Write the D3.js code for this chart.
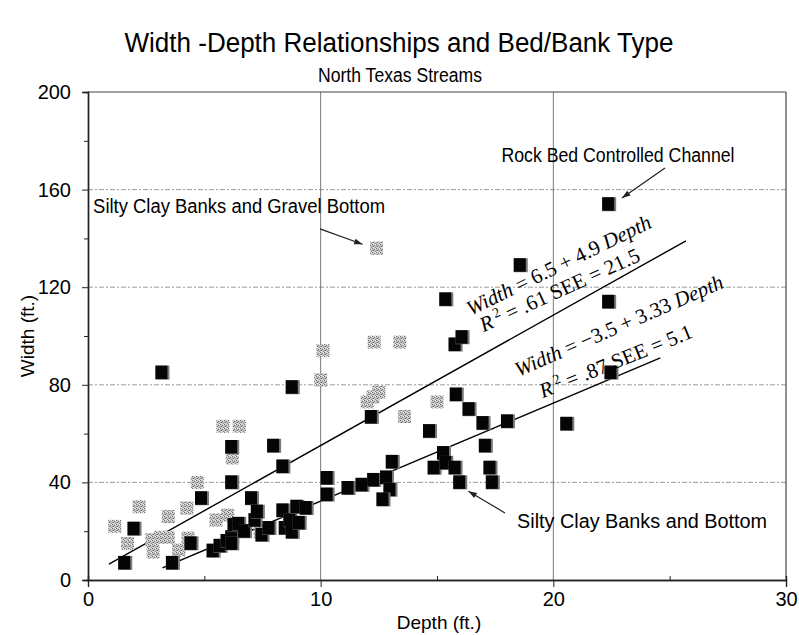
<!DOCTYPE html>
<html>
<head>
<meta charset="utf-8">
<script src="https://cdn.jsdelivr.net/npm/d3@7"></script>
<style>
  body { margin: 0; background: #fff; }
  svg { display: block; }
  text { font-family: "Liberation Sans", Arial, sans-serif; fill: #000; }
  .eq { font-family: "Liberation Serif", "Times New Roman", serif; }
</style>
</head>
<body>
<svg id="chart" width="799" height="635"></svg>
<script>
// Depth (ft.), Width (ft.)
const blackDepth = [1.6, 2.0, 3.2, 3.65, 4.45, 4.9, 5.4, 5.7, 6.0, 6.2, 6.3, 6.2, 6.2, 6.2, 6.5, 6.75, 7.05, 7.2, 7.3, 7.5, 7.8, 8.0, 8.4, 8.4, 8.5, 8.7, 8.8, 8.8, 9.0, 9.1, 9.4, 10.3, 10.3, 11.2, 11.8, 12.3, 12.85, 13.0, 12.7, 13.1, 12.2, 14.7, 15.3, 14.9, 15.4, 15.8, 16.0, 15.85, 16.4, 17.0, 17.1, 17.3, 17.4, 18.05, 20.6, 15.4, 15.8, 16.1, 18.6, 22.4, 22.4, 22.5];
const blackWidth = [7, 21, 85, 7, 15, 33.5, 12, 14, 16, 17.5, 22.5, 15, 40, 54.5, 23, 20, 33.5, 24.5, 28, 18.5, 21.3, 55, 46.5, 28.5, 21.3, 24.5, 19.7, 79, 30, 23.4, 29.5, 41.8, 35, 37.7, 39, 41, 42, 37, 33, 48.4, 66.8, 61, 52, 46, 48, 46, 40, 76, 70, 64.3, 55, 46, 40, 65, 64, 115, 96.5, 99.5, 129, 154, 114, 85];

const grayDepth = [1.15, 1.7, 2.2, 2.75, 2.8, 3.1, 3.45, 3.45, 3.9, 4.25, 4.3, 4.7, 5.5, 6.0, 6.2, 5.8, 6.5, 7.4, 10.0, 10.1, 12.0, 12.25, 12.5, 13.6, 15.0, 12.3, 13.4, 12.4];
const grayWidth = [22, 15, 30, 16.5, 11.5, 17.5, 26, 17.5, 12.3, 29.5, 17.2, 40, 24.6, 26.6, 50, 63, 63, 19.7, 82, 94, 73, 75, 77, 67, 73, 97.5, 97.5, 136];

// fitted lines as drawn (depth, width end points)
const fitNames = ['all', 'siltyClay'];
const fitStart = [[0.9, 6.5], [3.2, 5]];
const fitEnd = [[25.7, 139], [24.6, 91]];

const xTicks = [0, 10, 20, 30];
const yTicks = [0, 40, 80, 120, 160, 200];

const W = 799, H = 635;
const margin = {top: 92, right: 13, bottom: 55, left: 88};

const svg = d3.select('#chart');

const x = d3.scaleLinear().domain([0, 30]).range([margin.left, W - margin.right]);
const y = d3.scaleLinear().domain([0, 200]).range([H - margin.bottom, margin.top]);

// speckled fill for the gravel-bottom series
const defs = svg.append('defs');
const pat = defs.append('pattern').attr('id', 'speckle')
    .attr('patternUnits', 'userSpaceOnUse').attr('width', 4).attr('height', 4);
pat.append('rect').attr('width', 4).attr('height', 4).attr('fill', '#c8c8c8');
[[0, 0, '#6e6e6e'], [2, 1, '#7a7a7a'], [1, 2, '#5e5e5e'], [3, 3, '#8a8a8a'], [3, 0, '#ececec'], [1, 3, '#f0f0f0'], [0, 2, '#a8a8a8']]
    .forEach(([px, py, c]) => pat.append('rect').attr('x', px).attr('y', py).attr('width', 1).attr('height', 1).attr('fill', c));

defs.append('marker').attr('id', 'arrow')
    .attr('viewBox', '0 0 10 10').attr('refX', 10).attr('refY', 5)
    .attr('markerWidth', 9).attr('markerHeight', 7).attr('orient', 'auto')
  .append('path').attr('d', 'M0,1.5 L10,5 L0,8.5 Z').attr('fill', '#222');

// titles
svg.append('text').attr('x', 399).attr('y', 52).attr('text-anchor', 'middle')
    .attr('textLength', 549).attr('lengthAdjust', 'spacingAndGlyphs')
    .style('font-size', '27px').text('Width -Depth Relationships and Bed/Bank Type');
svg.append('text').attr('x', 400).attr('y', 82).attr('text-anchor', 'middle')
    .attr('textLength', 164).attr('lengthAdjust', 'spacingAndGlyphs')
    .style('font-size', '20px').text('North Texas Streams');

// grid
const grid = svg.append('g');
grid.selectAll('line.h').data(yTicks.filter(d => d > 0 && d < 200)).join('line')
    .attr('x1', x(0)).attr('x2', x(30)).attr('y1', d => y(d)).attr('y2', d => y(d))
    .attr('stroke', '#9a9a9a').attr('stroke-width', 1).attr('stroke-dasharray', '5,2,2,2');
grid.selectAll('line.v').data(xTicks.filter(d => d > 0 && d < 30)).join('line')
    .attr('x1', d => x(d)).attr('x2', d => x(d)).attr('y1', y(0)).attr('y2', y(200))
    .attr('stroke', '#777').attr('stroke-width', 1);

// frame top / right
svg.append('line').attr('x1', x(0)).attr('x2', x(30)).attr('y1', y(200)).attr('y2', y(200))
    .attr('stroke', '#444').attr('stroke-width', 1.2);
svg.append('line').attr('x1', x(30)).attr('x2', x(30)).attr('y1', y(200)).attr('y2', y(0))
    .attr('stroke', '#444').attr('stroke-width', 1.2);

// axes
const xAxis = svg.append('g').attr('transform', `translate(0,${y(0)})`)
    .call(d3.axisBottom(x).tickValues(xTicks).tickSize(7).tickPadding(5).tickFormat(d3.format('d')));
const xMinor = svg.append('g').attr('transform', `translate(0,${y(0)})`)
    .call(d3.axisBottom(x).tickValues([5, 15, 25]).tickSize(-4).tickFormat(''));
const yAxis = svg.append('g').attr('transform', `translate(${x(0)},0)`)
    .call(d3.axisLeft(y).tickValues(yTicks).tickSize(6).tickPadding(11).tickFormat(d3.format('d')));
const yMinor = svg.append('g').attr('transform', `translate(${x(0)},0)`)
    .call(d3.axisLeft(y).tickValues([20, 60, 100, 140, 180]).tickSize(4).tickFormat(''));
[xAxis, xMinor, yAxis, yMinor].forEach(g => {
    g.select('.domain').attr('stroke', '#222').attr('stroke-width', 1.4);
    g.selectAll('.tick line').attr('stroke', '#222');
    g.selectAll('.tick text').style('font-size', '20px').style('font-family', '"Liberation Sans", Arial, sans-serif');
});

svg.append('text').attr('x', 439).attr('y', 629).attr('text-anchor', 'middle')
    .style('font-size', '19px').text('Depth (ft.)');
svg.append('text').attr('transform', `translate(34,${(y(0) + y(200)) / 2}) rotate(-90)`)
    .attr('text-anchor', 'middle').style('font-size', '19px').text('Width (ft.)');

// fitted lines
svg.append('g').selectAll('line').data(fitNames).join('line')
    .attr('x1', (d, i) => x(fitStart[i][0])).attr('y1', (d, i) => y(fitStart[i][1]))
    .attr('x2', (d, i) => x(fitEnd[i][0])).attr('y2', (d, i) => y(fitEnd[i][1]))
    .attr('stroke', '#000').attr('stroke-width', 1.4);

// gravel-bottom points
const grayPts = grayDepth.map((d, i) => ({d, w: grayWidth[i]}));
svg.append('g').selectAll('rect').data(grayPts).join('rect')
    .attr('x', p => x(p.d) - 6.5).attr('y', p => y(p.w) - 6.5)
    .attr('width', 13).attr('height', 13).attr('fill', 'url(#speckle)');

// silty clay / rock bed points
const blackPts = blackDepth.map((d, i) => ({d, w: blackWidth[i]}));
const bg = svg.append('g').selectAll('g').data(blackPts).join('g')
    .attr('transform', p => `translate(${x(p.d)},${y(p.w)})`);
bg.append('rect').attr('x', -7).attr('y', -7).attr('width', 14).attr('height', 14).attr('fill', '#7a7a7a');
bg.append('rect').attr('x', -7).attr('y', -7).attr('width', 12).attr('height', 13.5).attr('fill', '#050505');

// equations
function eqLine(d, w, angle, parts) {
    const t = svg.append('text').attr('class', 'eq')
        .attr('transform', `translate(${x(d)},${y(w)}) rotate(${angle})`)
        .style('font-size', '21px');
    parts.forEach(p => {
        const s = t.append('tspan').text(p.t);
        if (p.i) s.style('font-style', 'italic');
        if (p.sup) s.attr('dy', -8).style('font-size', '14px');
        if (p.down) s.attr('dy', 8);
    });
}
eqLine(16.45, 108.2, -26, [{t: 'Width', i: 1}, {t: ' = 6.5 + 4.9 '}, {t: 'Depth', i: 1}]);
eqLine(17.0, 101.5, -24.5, [{t: 'R', i: 1}, {t: ' 2', sup: 1}, {t: ' = .61 SEE = 21.5', down: 1}]);
eqLine(18.5, 83.2, -23.5, [{t: 'Width', i: 1}, {t: ' = \u22123.5 + 3.33 '}, {t: 'Depth', i: 1}]);
eqLine(19.55, 74.5, -22, [{t: 'R', i: 1}, {t: ' 2', sup: 1}, {t: ' = .87 SEE = 5.1', down: 1}]);

// annotations
const notes = [
    {t: 'Rock Bed Controlled Channel', d: 22.78, w: 171.5, anchor: 'middle', len: 233, from: [24.8, 168.9], to: [22.95, 156.6]},
    {t: 'Silty Clay Banks and Gravel Bottom', d: 0.22, w: 150.4, anchor: 'start', len: 292, from: [9.97, 143.9], to: [11.8, 137.6]},
    {t: 'Silty Clay Banks and Bottom', d: 18.44, w: 21.5, anchor: 'start', len: 250, from: [17.92, 27.5], to: [16.35, 36.4]}
];
svg.append('g').selectAll('text').data(notes).join('text')
    .attr('x', n => x(n.d)).attr('y', n => y(n.w)).attr('text-anchor', n => n.anchor)
    .attr('textLength', n => n.len).attr('lengthAdjust', 'spacingAndGlyphs')
    .style('font-size', '19.5px').text(n => n.t);
svg.append('g').selectAll('line').data(notes).join('line')
    .attr('x1', n => x(n.from[0])).attr('y1', n => y(n.from[1]))
    .attr('x2', n => x(n.to[0])).attr('y2', n => y(n.to[1]))
    .attr('stroke', '#222').attr('stroke-width', 1.2).attr('marker-end', 'url(#arrow)');
</script>
</body>
</html>
